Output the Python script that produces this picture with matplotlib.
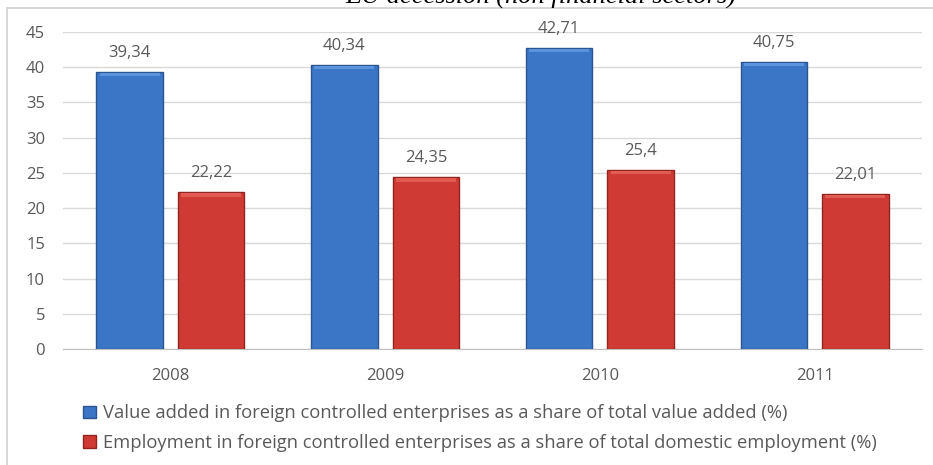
import matplotlib
matplotlib.use("Agg")
import matplotlib.pyplot as plt
import numpy as np
from matplotlib.patches import Rectangle, Patch

years = ["2008", "2009", "2010", "2011"]
value_added = [39.34, 40.34, 42.71, 40.75]
employment = [22.22, 24.35, 25.4, 22.01]
value_labels = ["39,34", "40,34", "42,71", "40,75"]
employment_labels = ["22,22", "24,35", "25,4", "22,01"]
yticks = [0, 5, 10, 15, 20, 25, 30, 35, 40, 45]
legend_labels = [
    "Value added in foreign controlled enterprises as a share of total value added (%)",
    "Employment in foreign controlled enterprises as a share of total domestic employment (%)",
]
title = "EU accession (non financial sectors)"

W, H = 933, 465
fig = plt.figure(figsize=(W / 100, H / 100), dpi=100)
fig.patch.set_facecolor("white")

txt_color = "#595959"
font = "Open Sans"

ax = fig.add_axes([63 / W, 1 - 349 / H, (922 - 63) / W, (349 - 32) / H])
x = np.arange(len(years))
bw = 0.31
off = 0.19
blue = "#3b76c6"
red = "#cf3a34"
ax.bar(x - off, value_added, bw, color=blue, edgecolor="#2a5590", linewidth=1.0, zorder=3)
ax.bar(x + off, employment, bw, color=red, edgecolor="#902622", linewidth=1.0, zorder=3)
# subtle bevel highlight at the top of each bar
ax.bar(x - off, [0.5] * len(years), bw * 0.9, bottom=[v - 0.6 for v in value_added],
       color="#5b93dc", linewidth=0, zorder=4)
ax.bar(x + off, [0.5] * len(years), bw * 0.9, bottom=[v - 0.6 for v in employment],
       color="#e35a52", linewidth=0, zorder=4)

for xi, v, lab in zip(x, value_added, value_labels):
    ax.annotate(lab, (xi - off, v), xytext=(0, 8), textcoords="offset points",
                ha="center", va="bottom", fontsize=12, color=txt_color, family=font)
for xi, v, lab in zip(x, employment, employment_labels):
    ax.annotate(lab, (xi + off, v), xytext=(0, 8), textcoords="offset points",
                ha="center", va="bottom", fontsize=12, color=txt_color, family=font)

ax.set_xlim(-0.5, len(years) - 0.5)
ax.set_ylim(0, 45)
ax.set_yticks(yticks)
ax.set_yticklabels([str(t) for t in yticks], fontsize=12, color=txt_color, family=font)
ax.set_xticks(x)
ax.set_xticklabels(years, fontsize=12, color=txt_color, family=font)
ax.tick_params(axis="y", length=0, pad=13)
ax.tick_params(axis="x", length=0, pad=14)
ax.grid(axis="y", color="#d9d9d9", linewidth=1.0, zorder=0)
for s in ["top", "right", "left"]:
    ax.spines[s].set_visible(False)
ax.spines["bottom"].set_color("#bfbfbf")
ax.set_facecolor("none")

# outer chart frame
fig.patches.append(Rectangle((7 / W, -0.02), 1.2, 1 - 8 / H + 0.02, transform=fig.transFigure,
                             fill=False, edgecolor="#d0d0d0", linewidth=1.2, zorder=0))

handles = [Patch(facecolor=blue, edgecolor="#2a5590"), Patch(facecolor=red, edgecolor="#902622")]
leg = fig.legend(handles, legend_labels, loc="upper left", bbox_to_anchor=(76 / W, 1 - 397 / H),
                 ncol=1, frameon=False, handlelength=0.7, handleheight=0.7, handletextpad=0.35,
                 labelspacing=0.65, prop={"family": font, "size": 13.2}, borderaxespad=0)
for t in leg.get_texts():
    t.set_color(txt_color)

fig.text(541 / W, 1 - 3 / H, title, ha="center", va="baseline", fontsize=19,
         family="Liberation Serif", style="italic", color="black")

fig.savefig("out.png", dpi=100)
